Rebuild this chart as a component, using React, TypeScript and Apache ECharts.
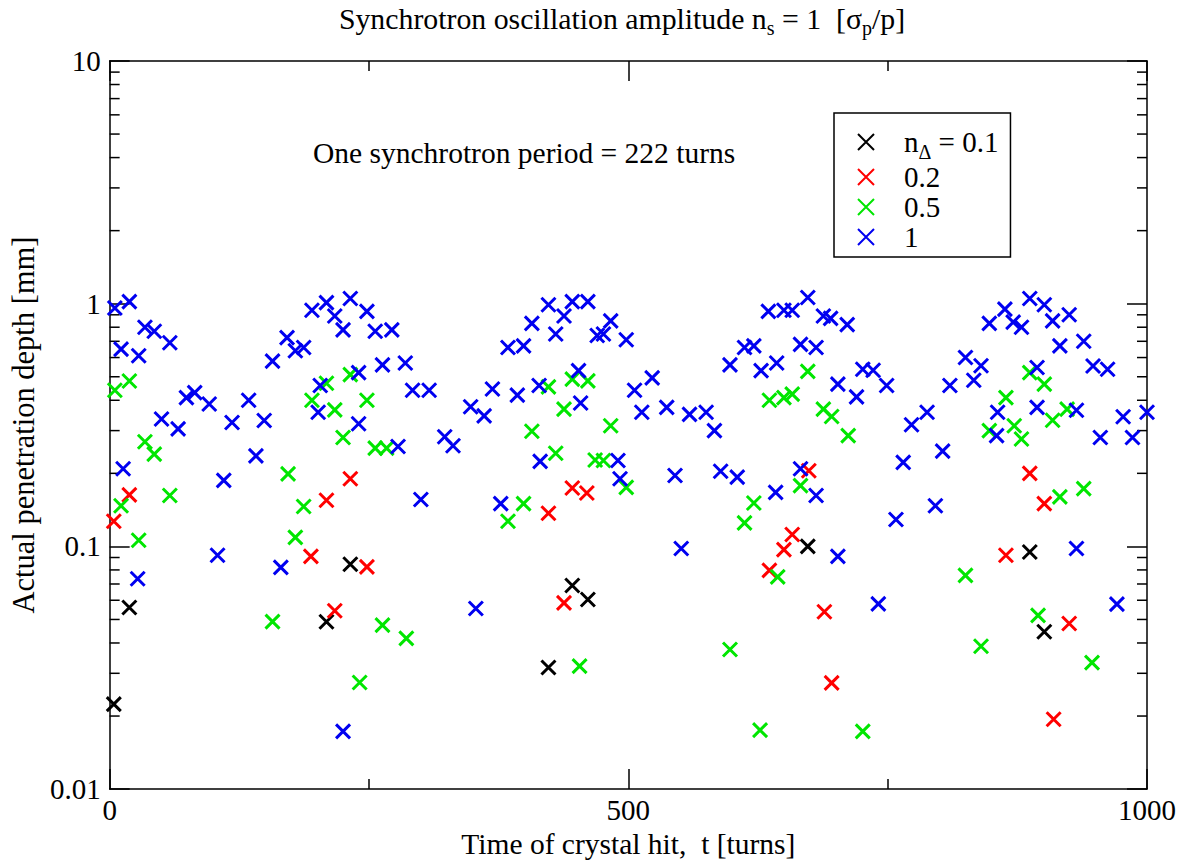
import React, { useEffect, useRef } from 'react';
import * as echarts from 'echarts';

const FONT = 'Liberation Serif';

// [t (turns), penetration depth (mm)]
const black: [number, number][] = [
  [19, 0.056], [4, 0.0224], [232, 0.0844], [209, 0.0489], [446, 0.069], [461, 0.0604],
  [423, 0.0317], [673, 0.1], [887, 0.0948], [901, 0.0445],
];
const red: [number, number][] = [
  [19, 0.163], [4, 0.127], [232, 0.19], [209, 0.155], [194, 0.091], [248, 0.0823], [217, 0.0543],
  [446, 0.174], [460, 0.166], [423, 0.137], [438, 0.0585], [674, 0.205], [658, 0.112], [650, 0.097],
  [636, 0.0797], [689, 0.0538], [696, 0.0274], [864, 0.092], [887, 0.2], [901, 0.15], [925, 0.0481],
  [910, 0.0194],
];
const green: [number, number][] = [
  [5, 0.44], [19, 0.48], [34, 0.27], [43, 0.24], [58, 0.162], [11, 0.147], [28, 0.106], [172, 0.199],
  [157, 0.049], [179, 0.109], [209, 0.47], [232, 0.51], [195, 0.4], [217, 0.365], [248, 0.4], [225, 0.281],
  [256, 0.254], [267, 0.254], [187, 0.146], [263, 0.0474], [286, 0.0418], [241, 0.0275], [423, 0.454],
  [446, 0.489], [461, 0.481], [438, 0.368], [407, 0.298], [483, 0.314], [430, 0.242], [468, 0.227],
  [476, 0.226], [498, 0.175], [399, 0.15], [384, 0.127], [453, 0.0321], [673, 0.526], [636, 0.4],
  [650, 0.41], [658, 0.424], [688, 0.368], [696, 0.343], [666, 0.178], [621, 0.151], [612, 0.125],
  [644, 0.0749], [598, 0.0376], [627, 0.0175], [712, 0.286], [864, 0.41], [848, 0.3], [825, 0.076],
  [840, 0.0388], [726, 0.0173], [887, 0.52], [901, 0.466], [872, 0.314], [879, 0.277], [909, 0.331],
  [923, 0.368], [916, 0.16], [939, 0.173], [895, 0.052], [947, 0.0332],
];
const blue: [number, number][] = [
  [5, 0.96], [19, 1.02], [34, 0.8], [43, 0.77], [58, 0.69], [11, 0.65], [28, 0.61], [74, 0.41], [82, 0.43],
  [96, 0.386], [134, 0.4], [50, 0.335], [66, 0.305], [118, 0.324], [149, 0.33], [141, 0.236], [13, 0.209],
  [110, 0.187], [104, 0.092], [165, 0.082], [27, 0.0736], [157, 0.58], [171, 0.725], [179, 0.64],
  [187, 0.66], [195, 0.94], [209, 1.01], [217, 0.89], [232, 1.05], [248, 0.93], [225, 0.78], [256, 0.77],
  [272, 0.78], [240, 0.52], [263, 0.56], [285, 0.57], [203, 0.46], [201, 0.357], [240, 0.32], [292, 0.44],
  [308, 0.44], [348, 0.376], [278, 0.258], [323, 0.283], [331, 0.26], [300, 0.156], [353, 0.0555],
  [225, 0.0173], [423, 0.99], [446, 1.02], [461, 1.02], [438, 0.89], [407, 0.83], [483, 0.85], [430, 0.75],
  [470, 0.74], [476, 0.75], [498, 0.71], [384, 0.66], [399, 0.67], [452, 0.53], [523, 0.495], [369, 0.445],
  [393, 0.42], [414, 0.46], [506, 0.44], [454, 0.39], [513, 0.357], [361, 0.345], [415, 0.224], [490, 0.226],
  [492, 0.19], [377, 0.15], [673, 1.06], [635, 0.93], [650, 0.94], [658, 0.94], [688, 0.89], [695, 0.87],
  [612, 0.66], [621, 0.67], [666, 0.68], [681, 0.66], [598, 0.56], [628, 0.53], [643, 0.57], [702, 0.466],
  [537, 0.374], [559, 0.35], [575, 0.357], [583, 0.3], [545, 0.196], [589, 0.204], [605, 0.193],
  [642, 0.167], [666, 0.209], [681, 0.162], [551, 0.098], [702, 0.091], [711, 0.82], [863, 0.95],
  [848, 0.83], [871, 0.84], [879, 0.8], [726, 0.537], [736, 0.532], [720, 0.413], [749, 0.46], [825, 0.6],
  [840, 0.555], [833, 0.484], [810, 0.46], [773, 0.317], [788, 0.357], [856, 0.357], [855, 0.286],
  [765, 0.222], [803, 0.247], [758, 0.129], [796, 0.147], [741, 0.058], [887, 1.05], [901, 0.99],
  [909, 0.85], [925, 0.9], [916, 0.67], [939, 0.7], [894, 0.546], [948, 0.554], [962, 0.537], [894, 0.374],
  [932, 0.364], [977, 0.342], [1000, 0.357], [955, 0.281], [986, 0.281], [932, 0.098], [971, 0.0578],
];

const seriesNames = ['n0.1', 'n0.2', 'n0.5', 'n1'];
const legendLabels = ['{p|n}{s|Δ}{t| = 0.1}', '{p|0.2}', '{p|0.5}', '{p|1}'];
const seriesColors = ['#000000', '#ff0000', '#00e600', '#0000f0'];
const yMinorTicks = [
  0.02, 0.03, 0.04, 0.05, 0.06, 0.07, 0.08, 0.09,
  0.2, 0.3, 0.4, 0.5, 0.6, 0.7, 0.8, 0.9,
  2, 3, 4, 5, 6, 7, 8, 9,
];
const X_MIN = 0;
const X_MAX = 1000;
const Y_MIN = 0.01;
const Y_MAX = 10;

const titleText = '{t|Synchrotron oscillation amplitude n}{s|s}{t| = 1  [σ}{s|p}{t|/p]}';
const noteText = 'One synchrotron period = 222 turns';
const xName = 'Time of crystal hit,  t [turns]';
const yName = 'Actual penetration depth [mm]';

const CROSS = 'path://M0,0L10,10M10,0L0,10';

export default function App() {
  const ref = useRef<HTMLDivElement>(null);
  useEffect(() => {
    if (!ref.current) return;
    const chart = echarts.init(ref.current, undefined, { renderer: 'svg' });
    const axisLine = { show: true, onZero: false, lineStyle: { color: '#000', width: 1.5 } };
    const axisTick = { show: true, inside: true, length: 20, lineStyle: { color: '#000', width: 1.5 } };
    const labelStyle = { fontFamily: FONT, fontSize: 29, color: '#000' };
    const legendRich = {
      p: { fontFamily: FONT, fontSize: 29, color: '#000', lineHeight: 30, padding: [0, 0, 0, 25] },
      t: { fontFamily: FONT, fontSize: 29, color: '#000', lineHeight: 30 },
      s: { fontFamily: FONT, fontSize: 20, color: '#000', lineHeight: 20, padding: [20, 0, 0, 0] },
    };
    const datasets = [black, red, green, blue];
    const option: any = {
      animation: false,
      backgroundColor: '#ffffff',
      textStyle: { fontFamily: FONT },
      grid: { left: 103, top: 61, width: 1044, height: 730, containLabel: false },
      xAxis: [
        {
          type: 'value', min: X_MIN, max: X_MAX, interval: 500, position: 'bottom',
          axisLine, axisTick,
          minorTick: { show: true, splitNumber: 2, length: 10, lineStyle: { color: '#000', width: 1.5 } },
          splitLine: { show: false }, minorSplitLine: { show: false },
          axisLabel: { ...labelStyle, margin: 6, formatter: (v: number) => String(v) },
          name: xName, nameLocation: 'middle', nameGap: 38,
          nameTextStyle: { ...labelStyle, fontSize: 29.5 },
        },
        {
          type: 'value', min: X_MIN, max: X_MAX, interval: 500, position: 'top',
          axisLine, axisTick,
          minorTick: { show: true, splitNumber: 2, length: 10, lineStyle: { color: '#000', width: 1.5 } },
          splitLine: { show: false }, axisLabel: { show: false },
        },
      ],
      yAxis: [
        {
          type: 'log', logBase: 10, min: Y_MIN, max: Y_MAX, position: 'left',
          axisLine, axisTick, splitLine: { show: false },
          axisLabel: { ...labelStyle, margin: 9 },
          name: yName, nameLocation: 'middle', nameGap: 63, nameRotate: 90,
          nameTextStyle: { ...labelStyle, fontSize: 30.5 },
        },
        {
          type: 'log', logBase: 10, min: Y_MIN, max: Y_MAX, position: 'right',
          axisLine, axisTick, splitLine: { show: false }, axisLabel: { show: false },
        },
      ],
      legend: {
        orient: 'vertical', left: 834, top: 113,
        padding: [9, 12, 5, 23],
        itemGap: 0, itemWidth: 16, itemHeight: 16,
        borderColor: '#000', borderWidth: 1.5, backgroundColor: '#fff',
        data: seriesNames,
        formatter: (name: string) => legendLabels[seriesNames.indexOf(name)],
        textStyle: { fontFamily: FONT, fontSize: 29, color: '#000', lineHeight: 30, rich: legendRich },
      },
      graphic: [
        {
          type: 'text', x: 622, y: 18,
          style: {
            text: titleText, rich: {
              t: { fontFamily: FONT, fontSize: 29.8, fill: '#000', lineHeight: 30 },
              s: { fontFamily: FONT, fontSize: 20, fill: '#000', lineHeight: 20, padding: [20, 0, 0, 0] },
            },
            align: 'center', verticalAlign: 'middle',
          },
        },
        {
          type: 'text', x: 313, y: 153,
          style: { text: noteText, fontFamily: FONT, fontSize: 29.5, fill: '#000', align: 'left', verticalAlign: 'middle' },
        },
      ],
      series: [
        ...datasets.map((d, i) => ({
          name: seriesNames[i], type: 'scatter', data: d,
          symbol: CROSS, symbolSize: 14,
          itemStyle: { color: 'rgba(0,0,0,0)', borderColor: seriesColors[i], borderWidth: 3, opacity: 1 },
          emphasis: { disabled: true },
          clip: false,
        })),
        {
          type: 'custom', name: 'minor', silent: true,
          data: yMinorTicks.map((v) => [X_MIN, v]),
          renderItem: (_p: any, api: any) => {
            const v = api.value(1);
            const l = api.coord([X_MIN, v]);
            const r = api.coord([X_MAX, v]);
            return {
              type: 'group',
              children: [
                { type: 'line', shape: { x1: l[0], y1: l[1], x2: l[0] + 10, y2: l[1] }, style: { stroke: '#000', lineWidth: 1.5 } },
                { type: 'line', shape: { x1: r[0] - 10, y1: r[1], x2: r[0], y2: r[1] }, style: { stroke: '#000', lineWidth: 1.5 } },
              ],
            };
          },
        },
      ],
    };
    chart.setOption(option);
    return () => chart.dispose();
  }, []);
  return (
    <div
      ref={ref}
      style={{ position: 'fixed', left: 0, top: 0, width: 1193, height: 864, background: '#fff' }}
    />
  );
}
